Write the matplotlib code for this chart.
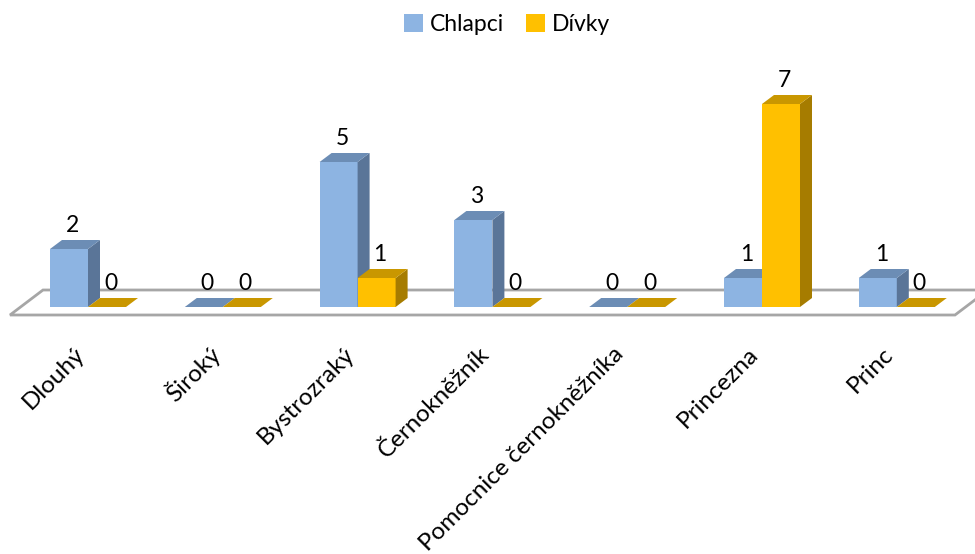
import matplotlib
matplotlib.use('Agg')
import matplotlib.pyplot as plt
from matplotlib.patches import Polygon, Patch

plt.rcParams['font.family'] = ['Lato', 'DejaVu Sans']

# Data
categories = ['Dlouhý', 'Široký', 'Bystrozraký', 'Černokněžník',
              'Pomocnice černokněžníka', 'Princezna', 'Princ']
chlapci = [2, 0, 5, 3, 0, 1, 1]
divky = [0, 0, 1, 0, 0, 7, 0]
series_names = ['Chlapci', 'Dívky']

# Face colours for each series: front, top, side
colors = {
    'Chlapci': ('#8DB4E2', '#6C8DB5', '#5A7598'),
    'Dívky': ('#FFC000', '#C99700', '#A67C00'),
}

W, H = 975, 554
fig = plt.figure(figsize=(W / 100, H / 100), dpi=100)
ax = fig.add_axes([0, 0, 1, 1])

# pixel scale: 134.8 px per category, 29 px per unit, baseline at 307 px
xpx, ypx = 134.8, 29.0
x0, y0 = 88, 307
ax.set_xlim(-x0 / xpx, (W - x0) / xpx)
ax.set_ylim(-(H - y0) / ypx, y0 / ypx)
ax.axis('off')

bw = 38 / xpx          # bar width
ddx = 12 / xpx         # depth offset x
ddy = 9 / ypx          # depth offset y

# floor
floor = Polygon([(-78 / xpx, -8 / ypx), (867 / xpx, -8 / ypx),
                 (900 / xpx, 17 / ypx), (-45 / xpx, 17 / ypx)],
                closed=True, facecolor='white', edgecolor='#A6A6A6',
                linewidth=2, zorder=1)
ax.add_patch(floor)


def draw_bar(x, v, name, z):
    front, top, side = colors[name]
    if v > 0:
        ax.bar(x, v, width=bw, align='edge', color=front, linewidth=0, zorder=z)
        ax.add_patch(Polygon([(x + bw, 0), (x + bw + ddx, ddy),
                              (x + bw + ddx, v + ddy), (x + bw, v)],
                             closed=True, facecolor=side, linewidth=0, zorder=z))
    ax.add_patch(Polygon([(x, v), (x + bw, v), (x + bw + ddx, v + ddy),
                          (x + ddx, v + ddy)],
                         closed=True, facecolor=top, linewidth=0, zorder=z))
    ax.annotate(str(v), (x + bw / 2 + ddx * 0.3, v + ddy), xytext=(0, 3),
                textcoords='offset points', ha='center', va='bottom',
                fontsize=16.5, color='black', zorder=20)


for i in range(len(categories)):
    draw_bar(i - bw, chlapci[i], 'Chlapci', 3 + 2 * i)
    draw_bar(i, divky[i], 'Dívky', 4 + 2 * i)

# category labels
for i, cat in enumerate(categories):
    ax.text(i - 0.05, -1.5, cat, rotation=45, rotation_mode='anchor',
            ha='right', va='center', fontsize=17.5, color='black')

handles = [Patch(facecolor=colors[n][0], edgecolor='none', label=n)
           for n in series_names]
fig.legend(handles=handles, loc='upper center', bbox_to_anchor=(0.52, 1.012),
           ncol=2, frameon=False, fontsize=16.5, handlelength=0.8,
           handleheight=0.8, handletextpad=0.3, columnspacing=1.0)

fig.savefig('out.png', dpi=100)
